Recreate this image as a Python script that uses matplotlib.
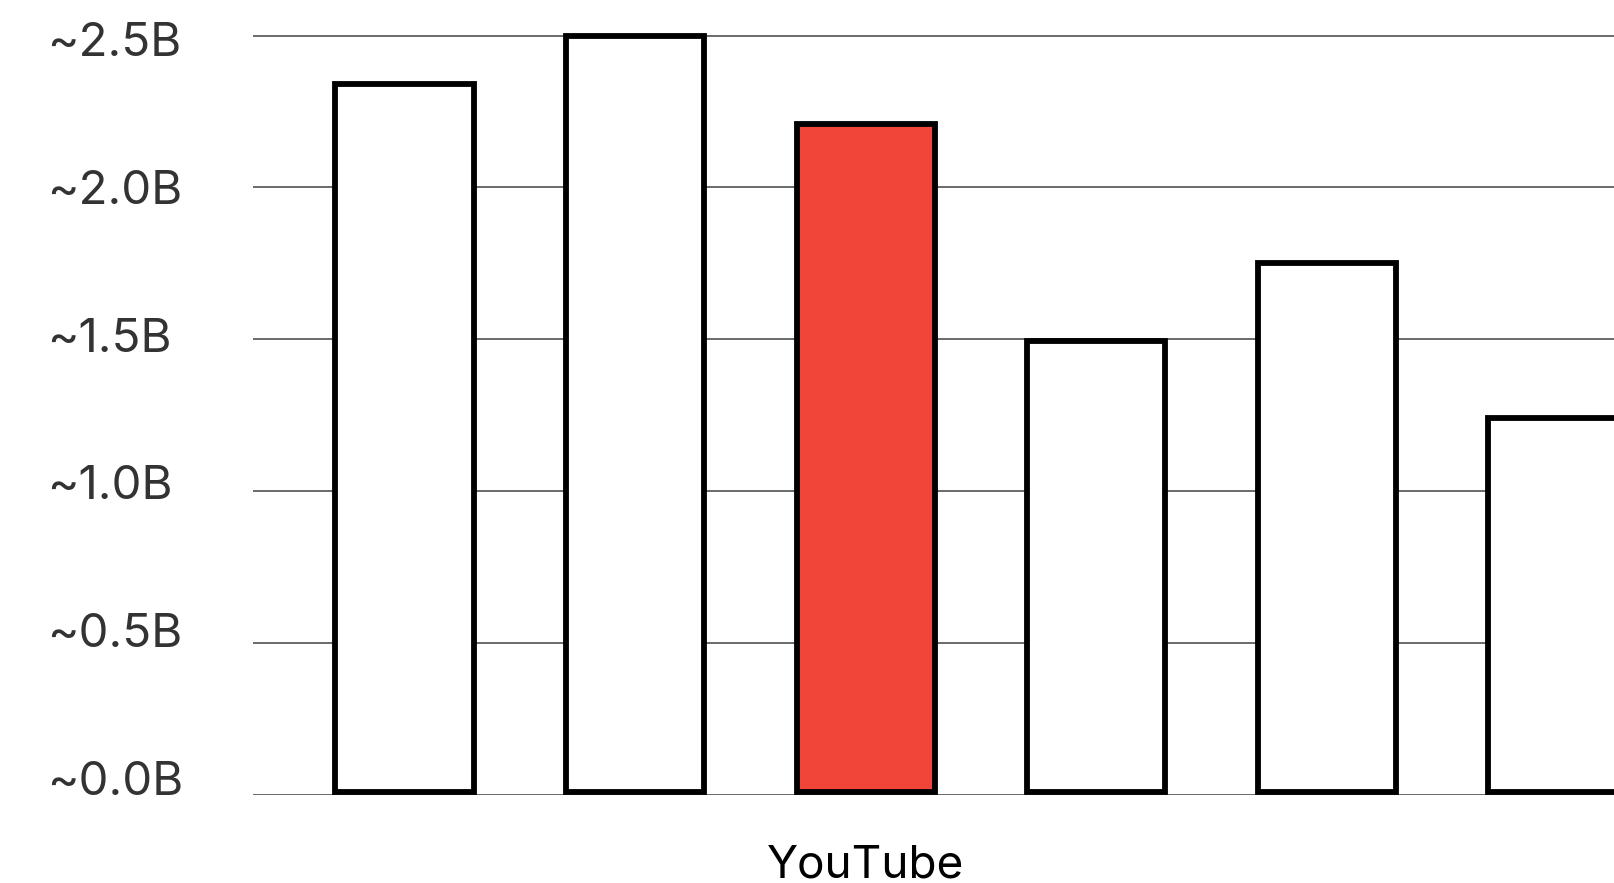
import matplotlib.pyplot as plt

plt.rcParams['font.family'] = ['Inter', 'DejaVu Sans']

platforms = ['', '', 'YouTube', '', '', '']
users = [2.33, 2.49, 2.20, 1.485, 1.74, 1.23]
highlight = 'YouTube'
yticks = [0.0, 0.5, 1.0, 1.5, 2.0, 2.5]
ytick_labels = ['~%.1fB' % v for v in yticks]

fig = plt.figure(figsize=(16.14, 8.83), dpi=100, facecolor='w')
ax = fig.add_axes([253 / 1614, 0.1, 1 - 253 / 1614, 0.894])

colors = ['#f04538' if p == highlight else 'white' for p in platforms]
x = list(range(len(users)))
ax.bar(x, users, width=0.6, bottom=0.01, color=colors, edgecolor='black',
       linewidth=4.2, zorder=3)

ax.set_xlim(-0.657, 5.245)
ax.set_ylim(0, 2.6)

ax.set_yticks(yticks)
ax.set_yticklabels([])
ax.set_xticks(x)
ax.set_xticklabels(platforms, fontsize=33, color='black')

# the value labels sit on a slightly tighter scale than the gridlines
label_scale = 0.973
for v, lab in zip(yticks, ytick_labels):
    ax.text(-0.1515, v * label_scale, lab, transform=ax.get_yaxis_transform(),
            fontsize=34.2, color='#333333', ha='left', va='baseline')

ax.grid(axis='y', color='#5f5f5a', linewidth=1.3, zorder=0)
ax.tick_params(axis='both', length=0)
ax.tick_params(axis='x', pad=36)
for s in ax.spines.values():
    s.set_visible(False)

fig.savefig('out.png', dpi=100, facecolor='w')
